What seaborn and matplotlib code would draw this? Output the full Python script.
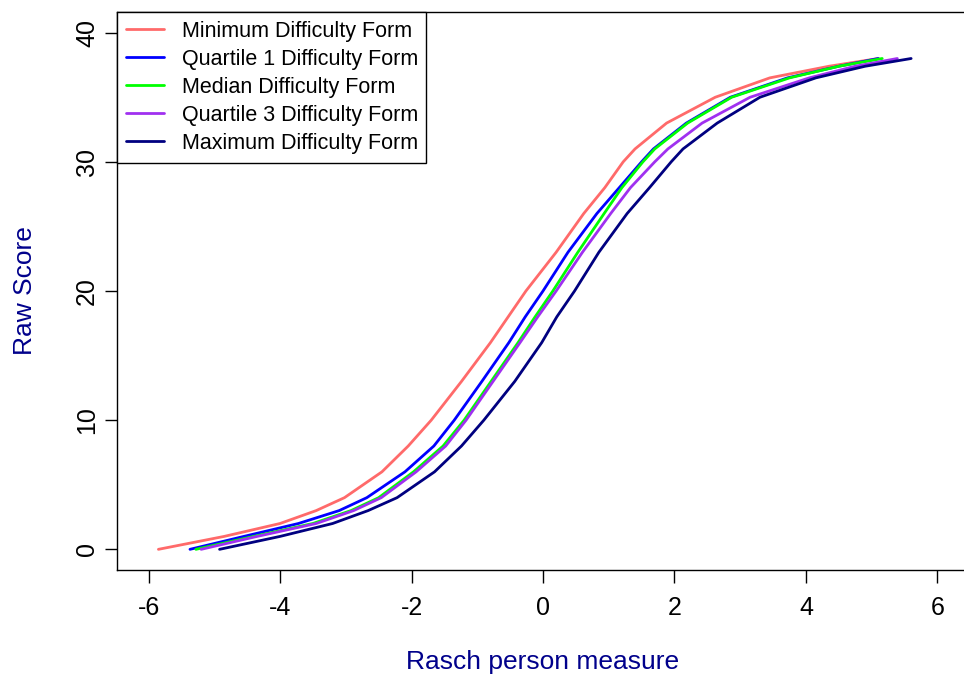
import matplotlib
matplotlib.use("Agg")
import matplotlib.pyplot as plt
import seaborn as sns
import pandas as pd

# Raw score grid (y) and Rasch person measures (x) for each form
raw_score = [0, 1, 2, 3, 4, 6, 8, 10, 13, 16, 18, 20, 23, 26, 28, 30, 31, 33, 35, 36.5, 37.4, 38]
min_form = [-5.85, -4.85, -4.0, -3.45, -3.02, -2.45, -2.05, -1.7, -1.24, -0.8, -0.53, -0.26,
            0.2, 0.62, 0.94, 1.22, 1.4, 1.88, 2.62, 3.45, 4.35, 5.1]
q1_form = [-5.37, -4.55, -3.72, -3.1, -2.68, -2.1, -1.66, -1.35, -0.93, -0.52, -0.27, 0.0,
           0.38, 0.82, 1.16, 1.5, 1.68, 2.18, 2.85, 3.72, 4.5, 5.1]
median_form = [-5.28, -4.4, -3.5, -2.92, -2.5, -1.97, -1.52, -1.2, -0.79, -0.38, -0.12, 0.15,
               0.53, 0.93, 1.2, 1.52, 1.7, 2.2, 2.87, 3.75, 4.5, 5.16]
q3_form = [-5.2, -4.35, -3.45, -2.88, -2.46, -1.93, -1.48, -1.17, -0.76, -0.35, -0.08, 0.2,
           0.6, 1.03, 1.33, 1.7, 1.9, 2.42, 3.15, 4.05, 4.75, 5.39]
max_form = [-4.92, -4.0, -3.2, -2.66, -2.22, -1.65, -1.24, -0.9, -0.43, -0.02, 0.21, 0.48,
            0.85, 1.28, 1.62, 1.95, 2.13, 2.65, 3.3, 4.15, 4.9, 5.6]

series_names = ["Minimum Difficulty Form", "Quartile 1 Difficulty Form", "Median Difficulty Form",
                "Quartile 3 Difficulty Form", "Maximum Difficulty Form"]
series_colors = ["#FF6A6A", "#0000FF", "#00FF00", "#A030F0", "#000080"]
x_ticks = [-6, -4, -2, 0, 2, 4, 6]
y_ticks = [0, 10, 20, 30, 40]

sns.set_theme(style="white")
plt.rcParams['font.family'] = ['Liberation Sans', 'DejaVu Sans']

frames = []
for name, xs in zip(series_names, [min_form, q1_form, median_form, q3_form, max_form]):
    frames.append(pd.DataFrame({"measure": xs, "score": raw_score, "form": name}))
df = pd.concat(frames, ignore_index=True)

fig = plt.figure(figsize=(9.64, 6.79), dpi=100)
W, H = 964, 679
left_px, right_px, top_px, bottom_px = 117, 969, 12, 570
ax = fig.add_axes([left_px / W, 1 - bottom_px / H, (right_px - left_px) / W, (bottom_px - top_px) / H])

sns.lineplot(data=df, x="measure", y="score", hue="form", hue_order=series_names,
             palette=series_colors, estimator=None, sort=False, linewidth=2, ax=ax)

ax.set_xlim(-6.48, 6.48)
ax.set_ylim(-1.6, 41.6)
ax.set_xticks(x_ticks)
ax.set_yticks(y_ticks)
ax.set_xticklabels([str(t) for t in x_ticks], fontsize=18, color="black")
ax.set_yticklabels([str(t) for t in y_ticks], fontsize=18, rotation=90, va="center", color="black")
ax.tick_params(axis="both", direction="out", length=9, width=1, color="black", bottom=True, left=True)
ax.tick_params(axis="x", pad=10)
ax.tick_params(axis="y", pad=4)
for s in ax.spines.values():
    s.set_color("black")
    s.set_linewidth(1)

ax.set_xlabel("Rasch person measure", fontsize=19, color="#00008B", labelpad=21)
ax.set_ylabel("Raw Score", fontsize=19, color="#00008B", labelpad=27)

leg = ax.legend(loc="upper left", borderaxespad=0, fontsize=15.5, frameon=True, fancybox=False,
                edgecolor="black", framealpha=1, handlelength=1.8, handletextpad=0.8,
                labelspacing=0.33, borderpad=0.4)
leg.get_frame().set_linewidth(1)
for t in leg.get_texts():
    t.set_color("black")

fig.savefig("out.png", dpi=100)
